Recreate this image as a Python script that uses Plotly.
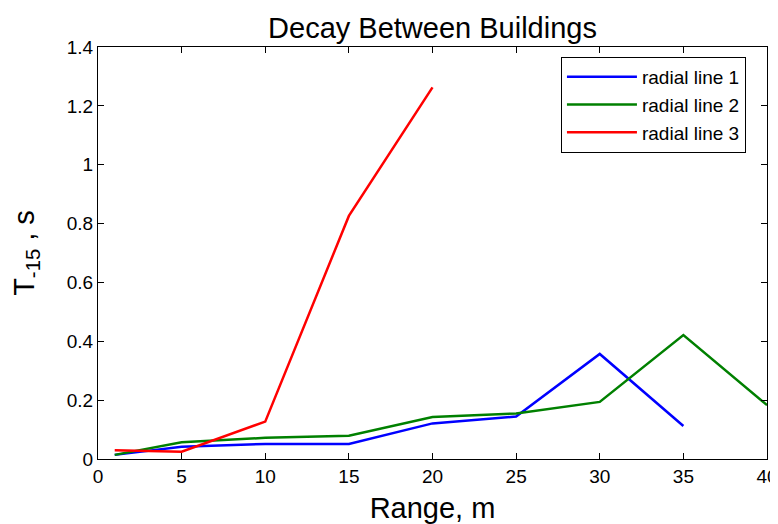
import plotly.graph_objects as go

range_m = [1, 5, 10, 15, 20, 25, 30, 35, 40]
radial1 = [0.014, 0.042, 0.051, 0.051, 0.121, 0.144, 0.357, 0.112]
radial2 = [0.014, 0.057, 0.072, 0.079, 0.143, 0.155, 0.194, 0.421, 0.183]
radial3 = [0.030, 0.025, 0.127, 0.826, 1.263]

series = [
    ("radial line 1", radial1, "#0000FF"),
    ("radial line 2", radial2, "#008000"),
    ("radial line 3", radial3, "#FF0000"),
]

fig = go.Figure()
for name, vals, col in series:
    fig.add_trace(go.Scatter(x=range_m[:len(vals)], y=vals, mode="lines", name=name,
                             line=dict(color=col, width=2.5)))

font = "Liberation Sans, Arial, sans-serif"
axis_common = dict(showgrid=False, zeroline=False, showline=True, linecolor="black", linewidth=1,
                   mirror="ticks", ticks="inside", ticklen=6, tickcolor="black", automargin=False,
                   tickfont=dict(size=19, color="black", family=font))
fig.update_layout(
    width=770, height=516,
    margin=dict(l=90, r=11, t=39, b=65),
    paper_bgcolor="white", plot_bgcolor="white",
    title=dict(text="Decay Between Buildings", x=0.5, xref="paper", y=0.962, yanchor="middle",
               font=dict(size=29, color="black", family=font)),
    xaxis=dict(range=[0, 40], tickvals=[0, 5, 10, 15, 20, 25, 30, 35, 40],
               title=dict(text="Range, m", font=dict(size=29, color="black", family=font), standoff=15),
               **axis_common),
    yaxis=dict(range=[0, 1.4], tickvals=[0, 0.2, 0.4, 0.6, 0.8, 1, 1.2, 1.4],
               ticktext=["0", "0.2", "0.4", "0.6", "0.8", "1", "1.2", "1.4"],
               title=dict(text="T<sub>-15</sub> , s", font=dict(size=29, color="black", family=font), standoff=24),
               **axis_common),
    legend=dict(x=0.692, y=0.976, xanchor="left", yanchor="top", bordercolor="black", borderwidth=1,
                bgcolor="white", font=dict(size=19, color="black", family=font),
                tracegroupgap=0, itemwidth=70),
    showlegend=True,
)
fig.write_html("out.html")
